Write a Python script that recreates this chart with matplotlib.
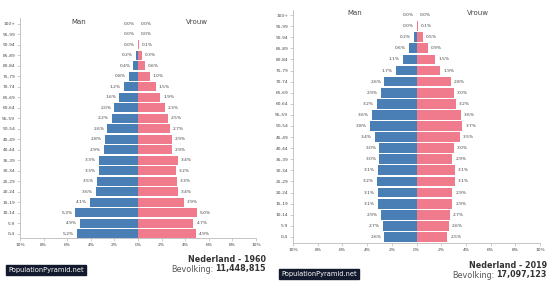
import matplotlib
matplotlib.use("Agg")
import matplotlib.pyplot as plt

ages = ["0-4", "5-9", "10-14", "15-19", "20-24", "25-29", "30-34", "35-39",
        "40-44", "45-49", "50-54", "55-59", "60-64", "65-69", "70-74",
        "75-79", "80-84", "85-89", "90-94", "95-99", "100+"]

men_1960 = [5.2, 4.9, 5.3, 4.1, 3.6, 3.5, 3.3, 3.3, 2.9, 2.8, 2.6, 2.2, 2.0,
            1.6, 1.2, 0.8, 0.4, 0.2, 0.0, 0.0, 0.0]
women_1960 = [4.9, 4.7, 5.0, 3.9, 3.4, 3.3, 3.2, 3.4, 2.9, 2.9, 2.7, 2.5, 2.3,
              1.9, 1.5, 1.0, 0.6, 0.3, 0.1, 0.0, 0.0]
men_2019 = [2.6, 2.7, 2.9, 3.1, 3.1, 3.2, 3.1, 3.0, 3.0, 3.4, 3.8, 3.6, 3.2,
            2.9, 2.6, 1.7, 1.1, 0.6, 0.2, 0.0, 0.0]
women_2019 = [2.5, 2.6, 2.7, 2.9, 2.9, 3.1, 3.1, 2.9, 3.0, 3.5, 3.7, 3.6, 3.2,
              3.0, 2.8, 1.9, 1.5, 0.9, 0.5, 0.1, 0.0]

xticks = [-10, -8, -6, -4, -2, 0, 2, 4, 6, 8, 10]
xticklabels = ["10%", "8%", "6%", "4%", "2%", "0%", "2%", "4%", "6%", "8%", "10%"]

BLUE = "#4a7fb6"
PINK = "#ef7b8d"
GRAY = "#bbbbbb"
TXT = "#444444"

W, H = 549, 281
fig = plt.figure(figsize=(W / 100, H / 100), dpi=100)


def px_axes(x0, x1, ytop, ybot):
    return fig.add_axes([x0 / W, 1 - ybot / H, (x1 - x0) / W, (ybot - ytop) / H])


def pyramid(ax, men, women, ylo, yhi):
    y = list(range(len(ages)))
    ax.barh(y, [-m for m in men], height=0.88, color=BLUE, edgecolor="none")
    ax.barh(y, women, height=0.88, color=PINK, edgecolor="none")
    for i, (m, w) in enumerate(zip(men, women)):
        ax.text(-m - 0.25, i, f"{m:.1f}%", ha="right", va="center",
                fontsize=3.2, color=TXT)
        ax.text(w + 0.25, i, f"{w:.1f}%", ha="left", va="center",
                fontsize=3.2, color=TXT)
    ax.set_xlim(-10, 10)
    ax.set_ylim(ylo, yhi)
    ax.set_yticks(y)
    ax.set_yticklabels(ages, fontsize=3.2, color=TXT)
    ax.set_xticks(xticks)
    ax.set_xticklabels(xticklabels, fontsize=3.2, color=TXT)
    ax.tick_params(axis="both", length=2, width=0.5, color=GRAY, pad=1.5)
    for s in ["top", "right"]:
        ax.spines[s].set_visible(False)
    for s in ["left", "bottom"]:
        ax.spines[s].set_color(GRAY)
        ax.spines[s].set_linewidth(0.6)
    ax.text(-5, 20.2, "Man", ha="center", va="center", fontsize=5, color=TXT)
    ax.text(5, 20.2, "Vrouw", ha="center", va="center", fontsize=5, color=TXT)


ax1 = px_axes(20, 256, 17.5, 238)
pyramid(ax1, men_1960, women_1960, -0.4, 20.6)
ax2 = px_axes(293, 540, 9.5, 243)
pyramid(ax2, men_2019, women_2019, -0.55, 20.5)

box = dict(boxstyle="square,pad=0.35", facecolor="#141a2e", edgecolor="#141a2e")
fig.text(8 / W, 1 - 270 / H, "PopulationPyramid.net", fontsize=4.8,
         color="white", ha="left", va="center", bbox=box)
fig.text(281 / W, 1 - 274 / H, "PopulationPyramid.net", fontsize=4.8,
         color="white", ha="left", va="center", bbox=box)

FS = 5.8
fig.text(266 / W, 1 - 260 / H, "Nederland - 1960", fontsize=FS,
         fontweight="bold", color="#333333", ha="right", va="center")
n1 = fig.text(266 / W, 1 - 269 / H, "11,448,815", fontsize=FS,
              fontweight="bold", color="#333333", ha="right", va="center")
fig.text(547 / W, 1 - 266 / H, "Nederland - 2019", fontsize=FS,
         fontweight="bold", color="#333333", ha="right", va="center")
n2 = fig.text(547 / W, 1 - 275 / H, "17,097,123", fontsize=FS,
              fontweight="bold", color="#333333", ha="right", va="center")

fig.canvas.draw()
r = fig.canvas.get_renderer()
for n, yy in ((n1, 269), (n2, 275)):
    bb = n.get_window_extent(r)
    fig.text((bb.x0 - 2) / W, 1 - yy / H, "Bevolking:", fontsize=FS,
             color="#555555", ha="right", va="center")

fig.savefig("out.png", dpi=100)
